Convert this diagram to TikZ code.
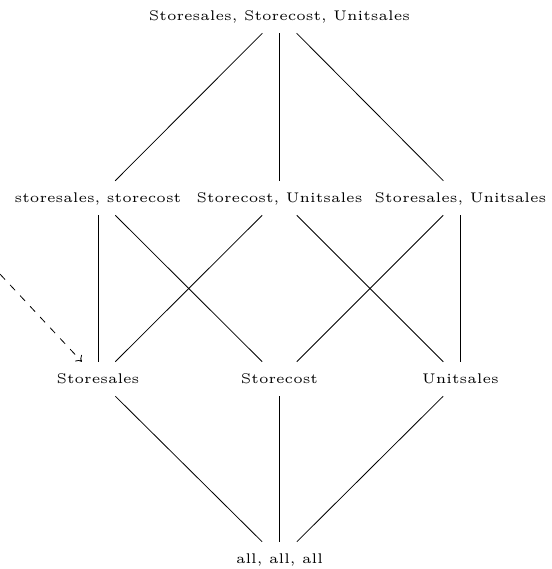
\documentclass[tikz,border=0pt]{standalone}
\usepackage{graphicx}
\usetikzlibrary{arrows.meta}
% labels: the 5pt optical size of Latin Modern, enlarged
\newcommand\lattlbl[1]{\scalebox{2.1}{\fontsize{5}{6}\selectfont #1}}
\tikzset{
  lvl/.style={inner sep=0pt, text height=15.75pt, text depth=9.75pt},
  edge/.style={line width=0.6pt},
  hint/.style={line width=0.6pt, dash pattern=on 5.5pt off 5.5pt, -{To[length=4pt,width=7pt]}}
}
\begin{document}
\begin{tikzpicture}[x=0.75pt,y=-0.75pt]
\useasboundingbox (0,0) rectangle (552,569);
\node[lvl] (top) at (279.5,16) {\lattlbl{Storesales, Storecost, Unitsales}};
\node[lvl] (ss-sc) at (98,198) {\lattlbl{storesales, storecost}};
\node[lvl] (sc-us) at (279.5,198) {\lattlbl{Storecost, Unitsales}};
\node[lvl] (ss-us) at (460.5,198) {\lattlbl{Storesales, Unitsales}};
\node[lvl] (ss) at (98,379) {\lattlbl{Storesales}};
\node[lvl] (sc) at (279.5,379) {\lattlbl{Storecost}};
\node[lvl] (us) at (460.5,379) {\lattlbl{Unitsales}};
\node[lvl] (all) at (279.5,559) {\lattlbl{all, all, all}};
\coordinate (src) at (-30,242);

\draw[edge] (top) -- (ss-sc);
\draw[edge] (top) -- (sc-us);
\draw[edge] (top) -- (ss-us);
\draw[edge] (ss-sc) -- (ss);
\draw[edge] (ss-sc) -- (sc);
\draw[edge] (sc-us) -- (ss);
\draw[edge] (sc-us) -- (us);
\draw[edge] (ss-us) -- (sc);
\draw[edge] (ss-us) -- (us);
\draw[edge] (ss) -- (all);
\draw[edge] (sc) -- (all);
\draw[edge] (us) -- (all);
\draw[hint] (src) -- (ss);
\end{tikzpicture}
\end{document}
